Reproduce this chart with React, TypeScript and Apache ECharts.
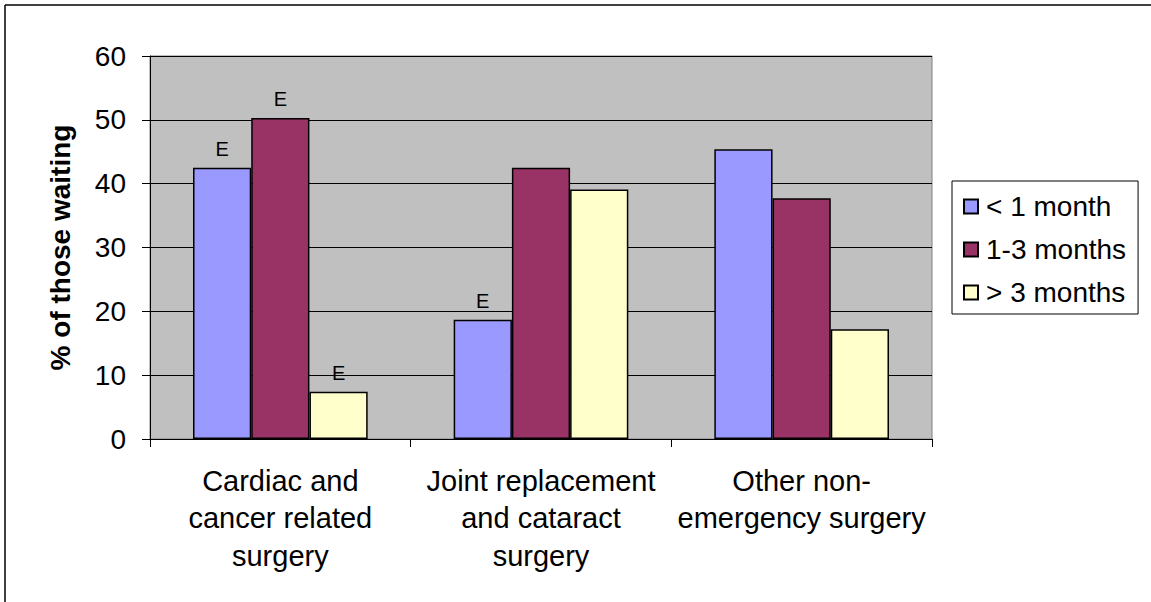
import React, { useEffect, useRef } from "react";
import * as echarts from "echarts";

const categories = [
  "Cardiac and\ncancer related\nsurgery",
  "Joint replacement\nand cataract\nsurgery",
  "Other non-\nemergency surgery",
];
const seriesNames = ["< 1 month", "1-3 months", "> 3 months"];
const lessThan1 = [42.5, 18.7, 45.4];
const oneToThree = [50.3, 42.5, 37.7];
const moreThan3 = [7.4, 39.1, 17.2];
const lessThan1Flags = ["E", "E", ""];
const oneToThreeFlags = ["E", "", ""];
const moreThan3Flags = ["E", "", ""];
const yTicks = [0, 10, 20, 30, 40, 50, 60];
const colors = ["#9999FF", "#993366", "#FFFFCC"];

const FONT = "'Liberation Sans', Arial, sans-serif";

function buildData(values: number[], flags: string[]) {
  return values.map((v, i) => ({
    value: v,
    label: { show: flags[i] !== "", formatter: flags[i] },
  }));
}

export default function App() {
  const ref = useRef<HTMLDivElement>(null);
  useEffect(() => {
    if (!ref.current) return;
    const chart = echarts.init(ref.current, undefined, { renderer: "svg" });
    const allValues = [lessThan1, oneToThree, moreThan3];
    const allFlags = [lessThan1Flags, oneToThreeFlags, moreThan3Flags];
    chart.setOption({
      animation: false,
      backgroundColor: "#ffffff",
      textStyle: { fontFamily: FONT },
      grid: {
        left: 150,
        top: 56,
        right: 219,
        bottom: 163,
        show: true,
        backgroundColor: "#c0c0c0",
        borderColor: "#808080",
        borderWidth: 1,
      },
      legend: {
        orient: "vertical",
        left: 952,
        top: 181,
        padding: [10, 12, 6, 11],
        itemWidth: 14,
        itemHeight: 14,
        itemGap: 12,
        borderColor: "#000000",
        borderWidth: 1,
        backgroundColor: "#ffffff",
        icon: "rect",
        textStyle: { fontSize: 28, lineHeight: 31, color: "#000", fontFamily: FONT, padding: [0, 0, 0, 3] },
        data: seriesNames,
      },
      xAxis: {
        type: "category",
        data: categories,
        axisLine: { lineStyle: { color: "#000", width: 1 } },
        axisTick: { show: true, length: 8, inside: false, lineStyle: { color: "#000" } },
        axisLabel: {
          interval: 0,
          fontSize: 29,
          lineHeight: 37.5,
          color: "#000",
          margin: 23,
          fontFamily: FONT,
        },
      },
      yAxis: {
        type: "value",
        min: yTicks[0],
        max: yTicks[yTicks.length - 1],
        interval: 10,
        name: "% of those waiting",
        nameLocation: "middle",
        nameRotate: 90,
        nameGap: 76,
        nameTextStyle: { fontSize: 28, fontWeight: "bold", color: "#000", fontFamily: FONT },
        axisLine: { show: true, lineStyle: { color: "#000", width: 1 } },
        axisTick: { show: true, length: 8, lineStyle: { color: "#000" } },
        axisLabel: { fontSize: 28, color: "#000", margin: 24, fontFamily: FONT },
        splitLine: { show: true, lineStyle: { color: "#000", width: 1 } },
      },
      series: seriesNames.map((name, si) => ({
        name,
        type: "bar",
        barGap: "0%",
        barCategoryGap: "33%",
        itemStyle: { color: colors[si], borderColor: "#000", borderWidth: 1.5 },
        label: {
          show: false,
          position: "top",
          distance: 9,
          fontSize: 20,
          color: "#000",
          fontFamily: FONT,
        },
        data: buildData(allValues[si], allFlags[si]),
      })),
      graphic: [
        { type: "line", shape: { x1: 5, y1: 5, x2: 1151, y2: 5 }, style: { stroke: "#000", lineWidth: 1.5 } },
        { type: "line", shape: { x1: 5, y1: 5, x2: 5, y2: 602 }, style: { stroke: "#000", lineWidth: 1.5 } },
      ],
    });
    return () => chart.dispose();
  }, []);
  return (
    <div
      ref={ref}
      style={{ position: "absolute", left: 0, top: 0, width: 1151, height: 602 }}
    />
  );
}
